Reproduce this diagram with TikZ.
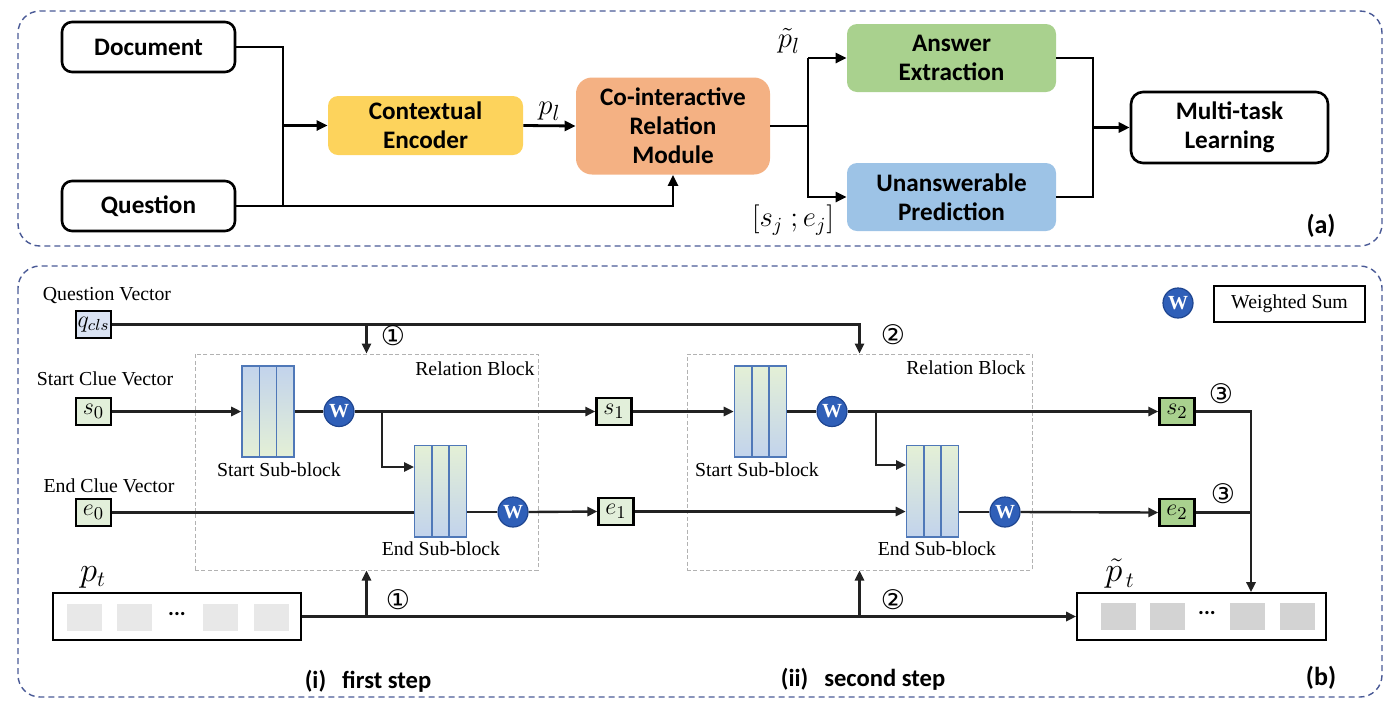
\documentclass[tikz,border=0pt]{standalone}
\usepackage{fontspec}
\setmainfont{Liberation Serif}
\newfontfamily\carl{Carlito}
\newfontfamily\circfont{DejaVu Sans}
\usetikzlibrary{arrows.meta,calc}
\definecolor{panelc}{HTML}{4A5A96}
\definecolor{ceY}{HTML}{FDD35C}
\definecolor{crmO}{HTML}{F4B183}
\definecolor{aeG}{HTML}{A9D18E}
\definecolor{upB}{HTML}{9DC3E6}
\definecolor{sbBlue}{HTML}{C2D3EC}
\definecolor{sbGreen}{HTML}{E4F0D6}
\definecolor{sbBorder}{HTML}{4F78B8}
\definecolor{wBlue}{HTML}{2F5FB8}
\definecolor{wEdge}{HTML}{1E4590}
\definecolor{vecG}{HTML}{E2EFDA}
\definecolor{vecG2}{HTML}{A9D18E}
\definecolor{vecB}{HTML}{DAE3F3}
\definecolor{sqL}{HTML}{E8E8E8}
\definecolor{sqD}{HTML}{D3D3D3}
\definecolor{lnc}{HTML}{222222}
\tikzset{
  panel/.style={draw=panelc, line width=0.7pt, dash pattern=on 3pt off 2pt, rounded corners=11pt},
  topbox/.style={rounded corners=5pt, align=center, font=\carl\bfseries\fontsize{12.6}{14.6}\selectfont, inner sep=0pt},
  whitebox/.style={topbox, draw=black, line width=1.3pt, fill=white},
  tline/.style={draw=black, line width=1.4pt},
  tarr/.style={tline, -{Triangle[length=5.5pt,width=5pt]}},
  bline/.style={draw=lnc, line width=1.2pt},
  barr/.style={bline, -{Triangle[length=5pt,width=4.6pt]}},
  vecbox/.style={draw=black, line width=1.2pt, minimum width=17.5pt, minimum height=13.5pt, inner sep=0pt, font=\fontsize{13}{14}\selectfont},
  relblock/.style={draw=black!30, line width=0.5pt, dash pattern=on 2pt off 1.2pt, inner sep=0pt},
  subblk/.style={draw=sbBorder, line width=0.8pt, top color=sbBlue, bottom color=sbGreen, minimum width=26pt, minimum height=45.7pt, inner sep=0pt,
    path picture={
      \draw[sbBorder, line width=0.8pt]
        ($(path picture bounding box.south west)!0.3333!(path picture bounding box.south east)$) --
        ($(path picture bounding box.north west)!0.3333!(path picture bounding box.north east)$)
        ($(path picture bounding box.south west)!0.6667!(path picture bounding box.south east)$) --
        ($(path picture bounding box.north west)!0.6667!(path picture bounding box.north east)$);
    }},
  subblkr/.style={subblk, top color=sbGreen, bottom color=sbBlue},
  wnode/.style={circle, fill=wBlue, draw=wEdge, line width=0.6pt, minimum size=15pt, inner sep=0pt, text=white, font=\bfseries\fontsize{10}{10}\selectfont},
  lbl/.style={font=\fontsize{9.9}{11}\selectfont, inner sep=0pt},
  circnum/.style={font=\circfont\fontsize{13.5}{14}\selectfont, inner sep=0pt},
  steplbl/.style={font=\carl\bfseries\fontsize{12.3}{14}\selectfont, inner sep=0pt},
}
\begin{document}
\begin{tikzpicture}[x=0.5pt, y=-0.5pt]
\useasboundingbox (0,0) rectangle (1400,708);
% ---------- panel (a) ----------
\draw[panel] (18,11) rectangle (1382,246);
\node[whitebox, minimum width=86.5pt, minimum height=25pt] (doc) at (148.5,47) {Document};
\node[whitebox, minimum width=86.5pt, minimum height=25pt] (ques) at (148.5,206) {Question};
\node[topbox, fill=ceY, minimum width=97.5pt, minimum height=29.5pt] (ce) at (425.5,125.5) {Contextual\\Encoder};
\node[topbox, fill=crmO, minimum width=97pt, minimum height=48.5pt, rounded corners=8pt] (crm) at (673,126) {Co-interactive\\Relation\\Module};
\node[topbox, fill=aeG, minimum width=104.5pt, minimum height=34pt] (ae) at (951.5,58) {Answer\\Extraction};
\node[topbox, fill=upB, minimum width=104.5pt, minimum height=34pt] (up) at (951.5,197) {Unanswerable\\Prediction};
\node[whitebox, minimum width=98.5pt, minimum height=35.5pt, rounded corners=6pt] (mtl) at (1229.5,127.5) {Multi-task\\Learning};

\coordinate (j1) at (283,125.5);
\coordinate (j2) at (808,126);
\coordinate (j3) at (1093,127.5);
\draw[tline] (doc.east) -| (j1 |- ques.east);
\draw[tarr] (j1) -- (ce.west);
\draw[tarr] (ques.east) -| (crm.south);
\draw[tarr] (ce.east) -- (crm.west) node[midway, above=2pt, font=\fontsize{15}{16}\selectfont, inner sep=0pt] (pl) {$p_l$};
\draw[tline] (crm.east) -- (j2);
\draw[tarr] (j2 |- ae.west) -- (ae.west);
\draw[tarr] (j2) |- (up.west);
\draw[tline] (j2) -- (j2 |- ae.west);
\draw[tline] (ae.east) -| (j3);
\draw[tline] (up.east) -| (j3);
\draw[tarr] (j3) -- (mtl.west);
\node[font=\fontsize{15}{16}\selectfont, inner sep=0pt] (plt) at (789,41) {$\tilde{p}_l$};
\node[font=\fontsize{14}{15}\selectfont, inner sep=0pt] (sje) at (793,220) {$[s_j\ ;e_j]$};
\node[font=\carl\bfseries\fontsize{13}{15}\selectfont, inner sep=0pt] (la) at (1321,226) {(a)};

% ---------- panel (b) ----------
\draw[panel] (18,266) rectangle (1382,697);
% legend
\node[wnode] (wleg) at (1178,303) {W};
\node[draw=black, line width=0.8pt, minimum width=75.5pt, minimum height=18pt, inner sep=0pt, font=\fontsize{9.9}{11}\selectfont] (wsum) at (1289.5,304) {Weighted Sum};

% relation blocks
\node[relblock, minimum width=171.5pt, minimum height=108pt] (rb1) at (366.5,462) {};
\node[relblock, minimum width=172.5pt, minimum height=108pt] (rb2) at (859.5,462) {};
\node[lbl, anchor=east] (rbl1) at (535,369) {Relation Block};
\node[lbl, anchor=east] (rbl2) at (1026,368) {Relation Block};

% vectors
\node[lbl] (qvl) at (107,296) {Question Vector};
\node[lbl] (svl) at (105,379) {Start Clue Vector};
\node[lbl] (evl) at (109,486) {End Clue Vector};
\node[vecbox, fill=vecB, font=\fontsize{12}{13}\selectfont] (q) at (93.5,324.5) {$q_{cls}$};
\node[vecbox, fill=vecG] (s0) at (93.5,411.5) {$s_0$};
\node[vecbox, fill=vecG] (e0) at (93.5,512.5) {$e_0$};
\node[vecbox, fill=vecG] (s1) at (614,411.5) {$s_1$};
\node[vecbox, fill=vecG] (e1) at (616,511.5) {$e_1$};
\node[vecbox, fill=vecG2] (s2) at (1177,411.5) {$s_2$};
\node[vecbox, fill=vecG2] (e2) at (1177,512.5) {$e_2$};

% sub-blocks
\node[subblk] (st1) at (268,411.5) {};
\node[subblkr] (en1) at (440.5,491) {};
\node[subblkr] (st2) at (760.5,411.5) {};
\node[subblkr] (en2) at (932.5,491) {};
\node[lbl] (stl1) at (279,470) {Start Sub-block};
\node[lbl] (enl1) at (441,549) {End Sub-block};
\node[lbl] (stl2) at (757,470) {Start Sub-block};
\node[lbl] (enl2) at (937,549) {End Sub-block};

% W nodes
\node[wnode] (w1) at (339,411.5) {W};
\node[wnode] (w2) at (513,512) {W};
\node[wnode] (w3) at (832,411.5) {W};
\node[wnode] (w4) at (1005,512) {W};

% p_t boxes
\node[draw=black, line width=0.9pt, minimum width=124pt, minimum height=23.5pt, inner sep=0pt] (pt) at (177,616.5) {};
\node[draw=black, line width=0.9pt, minimum width=124.5pt, minimum height=23.5pt, inner sep=0pt] (ptt) at (1201.5,616.5) {};
\foreach \xa in {67,117,203,254} \fill[sqL] (\xa,604) rectangle ++(35,27);
\foreach \xa in {1101,1150,1230,1280} \fill[sqD] (\xa,603) rectangle ++(35,27);
\node[font=\carl\bfseries\fontsize{11}{12}\selectfont, inner sep=0pt] (dots1) at (177,614) {...};
\node[font=\carl\bfseries\fontsize{11}{12}\selectfont, inner sep=0pt] (dots2) at (1207,613) {...};
\node[font=\fontsize{16}{17}\selectfont, inner sep=0pt] (ptl) at (93,577) {$p_t$};
\node[font=\fontsize{16}{17}\selectfont, inner sep=0pt] (pttl) at (1120,574) {$\tilde{p}_{\,t}$};

% connectors
\coordinate (qa) at (q.east -| rb1.north);
\draw[bline] (q.east) -- (qa);
\draw[barr] (qa) -- (rb1.north);
\draw[barr] (qa) -| (rb2.north);
\node[circnum] (c1a) at (393,336) {①};
\node[circnum] (c2a) at (893,335) {②};

\draw[barr] (s0.east) -- (st1.west);
\draw[bline] (st1.east) -- (w1.west);
\draw[barr] (w1.east) -- (s1.west);
\coordinate (b1) at (382,411.5);
\coordinate (b1e) at (414,467);
\draw[barr] (b1) |- (b1e);
\draw[bline] (e0.east) -- (e0.east -| en1.west);
\draw[bline] (en1.east |- w2.west) -- (w2.west);
\draw[barr] (w2.east) -- (e1.west);

\draw[barr] (s1.east) -- (st2.west);
\draw[bline] (st2.east) -- (w3.west);
\draw[barr] (w3.east) -- (s2.west);
\coordinate (b2) at (876,411.5);
\coordinate (b2e) at (906,465);
\draw[barr] (b2) |- (b2e);
\draw[barr] (e1.east) -- (e1.east -| en2.west);
\draw[bline] (en2.east |- w4.west) -- (w4.west);
\draw[barr] (w4.east) -- (e2.west);

\coordinate (j4) at (1251,411.5);
\draw[barr] (s2.east) -- (j4) -- (j4 |- ptt.north);
\draw[bline] (e2.east) -- (e2.east -| j4);
\node[circnum] (c3a) at (1221,394) {③};
\node[circnum] (c3b) at (1223,494) {③};

\draw[barr] (pt.east) -- (ptt.west);
\draw[barr] (pt.east -| rb1.south) -- (rb1.south);
\draw[barr] (pt.east -| rb2.south) -- (rb2.south);
\node[circnum] (c1b) at (398,600) {①};
\node[circnum] (c2b) at (893,600) {②};

\node[steplbl] (st1l) at (368,681) {(i)\hspace{8pt}first step};
\node[steplbl] (st2l) at (863,679) {(ii)\hspace{8pt}second step};
\node[font=\carl\bfseries\fontsize{13}{15}\selectfont, inner sep=0pt] (lb) at (1321,678) {(b)};
\end{tikzpicture}
\end{document}
